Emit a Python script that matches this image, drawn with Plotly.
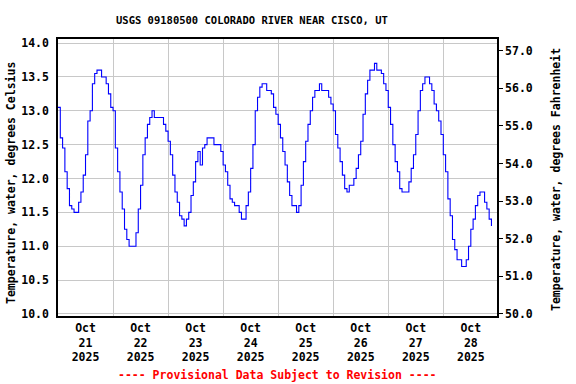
import plotly.graph_objects as go
import pandas as pd

# Hourly water temperature readings (deg C), starting 2025-10-21 00:00
temps_c = [
    13.05, 12.6, 12.45, 12.1, 11.85, 11.6, 11.55, 11.5, 11.5, 11.65,
    11.8, 12.05, 12.35, 12.85, 13.0, 13.4, 13.55, 13.6, 13.6, 13.5,
    13.5, 13.4, 13.25, 13.05, 13.0, 12.45, 12.1, 11.8, 11.55, 11.25,
    11.1, 11.0, 11.0, 11.0, 11.2, 11.55, 11.9, 12.35, 12.6, 12.8,
    12.9, 13.0, 12.9, 12.9, 12.9, 12.9, 12.8, 12.7, 12.55, 12.35,
    12.05, 11.8, 11.65, 11.45, 11.4, 11.3, 11.4, 11.5, 11.75, 11.95,
    12.25, 12.4, 12.2, 12.45, 12.5, 12.6, 12.6, 12.6, 12.5, 12.5,
    12.5, 12.4, 12.2, 12.1, 11.9, 11.7, 11.65, 11.6, 11.6, 11.5,
    11.4, 11.4, 11.6, 11.8, 12.15, 12.5, 13.0, 13.2, 13.35, 13.4,
    13.4, 13.3, 13.3, 13.25, 13.05, 12.95, 12.8, 12.6, 12.4, 12.2,
    11.95, 11.75, 11.6, 11.6, 11.5, 11.6, 11.9, 12.25, 12.55, 12.8,
    13.0, 13.2, 13.3, 13.3, 13.4, 13.3, 13.3, 13.3, 13.2, 13.1,
    13.0, 12.65, 12.45, 12.25, 12.05, 11.85, 11.8, 11.9, 11.9, 12.0,
    12.15, 12.35, 12.55, 12.95, 13.25, 13.45, 13.6, 13.6, 13.7, 13.6,
    13.6, 13.55, 13.4, 13.3, 13.05, 12.8, 12.5, 12.25, 12.1, 11.85,
    11.8, 11.8, 11.8, 11.95, 12.15, 12.35, 12.65, 13.0, 13.3, 13.4,
    13.5, 13.5, 13.4, 13.3, 13.1, 13.0, 12.85, 12.65, 12.35, 12.1,
    11.7, 11.45, 11.1, 10.95, 10.8, 10.8, 10.7, 10.7, 10.8, 11.0,
    11.25, 11.4, 11.6, 11.75, 11.8, 11.8, 11.65, 11.55, 11.4, 11.3,
]
start_time = "2025-10-21 00:00"
times = pd.date_range(start_time, periods=len(temps_c), freq="h")

day_labels = ["Oct<br>21<br>2025", "Oct<br>22<br>2025", "Oct<br>23<br>2025", "Oct<br>24<br>2025",
              "Oct<br>25<br>2025", "Oct<br>26<br>2025", "Oct<br>27<br>2025", "Oct<br>28<br>2025"]
label_times = pd.date_range("2025-10-21 12:00", periods=8, freq="D")
midnights = pd.date_range("2025-10-21 00:00", periods=9, freq="D")

c_ticks = [10.0, 10.5, 11.0, 11.5, 12.0, 12.5, 13.0, 13.5, 14.0]
f_ticks = [50.0, 51.0, 52.0, 53.0, 54.0, 55.0, 56.0, 57.0]
c_range = [9.97, 14.06]
f_range = [c_range[0] * 1.8 + 32, c_range[1] * 1.8 + 32]

FONT = "DejaVu Sans Mono"
PL, PR, PT, PB = 58, 497, 39, 316
PW, PH = PR - PL, PB - PT


def px_x(x):
    return (x - PL) / PW


def px_y(y):
    return (PB - y) / PH


fig = go.Figure()
fig.add_trace(go.Scatter(
    x=times, y=temps_c, mode="lines", line=dict(color="#0000ff", width=1.1, shape="hv"),
    showlegend=False, hoverinfo="skip"))
fig.add_trace(go.Scatter(
    x=times, y=[t * 1.8 + 32 for t in temps_c], mode="lines", yaxis="y2",
    line=dict(width=0), opacity=0, showlegend=False, hoverinfo="skip"))

tick_font = dict(family=FONT, size=11.5, weight="bold", color="black")

fig.update_layout(
    width=576, height=384,
    margin=dict(l=PL, r=576 - PR, t=PT, b=384 - PB, autoexpand=False),
    paper_bgcolor="white", plot_bgcolor="white",
    font=dict(family=FONT, size=11, color="black", weight="bold"),
    xaxis=dict(
        type="date", automargin=False,
        range=[midnights[0], pd.Timestamp("2025-10-28 23:25")],
        tickmode="array", tickvals=label_times, ticktext=day_labels,
        showgrid=False, ticks="", showline=True, linecolor="black", linewidth=1.5,
        mirror=True, zeroline=False, tickfont=tick_font,
        minor=dict(tickvals=midnights, showgrid=True, gridcolor="#c8c8c8", gridwidth=1, ticks=""),
    ),
    yaxis=dict(
        automargin=False,
        range=c_range, tickmode="array", tickvals=c_ticks,
        ticktext=[f"{v:.1f}" for v in c_ticks],
        showgrid=True, gridcolor="#c8c8c8", gridwidth=1, zeroline=False,
        showline=True, linecolor="black", linewidth=1.5, ticks="",
        ticklabelstandoff=5, tickfont=tick_font,
    ),
    yaxis2=dict(
        automargin=False,
        range=f_range, overlaying="y", side="right", tickmode="array", tickvals=f_ticks,
        ticktext=[f"{v:.1f}" for v in f_ticks],
        showgrid=False, zeroline=False, showline=True, linecolor="black", linewidth=1.5,
        ticks="outside", ticklen=4, tickcolor="black", tickwidth=1, tickfont=tick_font,
    ),
    annotations=[
        dict(text="USGS 09180500 COLORADO RIVER NEAR CISCO, UT", xref="paper", yref="paper",
             x=px_x(252), y=px_y(20), xanchor="center", yanchor="middle",
             showarrow=False, font=dict(family=FONT, size=10.5, weight="bold", color="black")),
        dict(text="Temperature, water, degrees Celsius", xref="paper", yref="paper",
             x=px_x(11), y=px_y(183), xanchor="center", yanchor="middle", textangle=-90,
             showarrow=False, font=dict(family=FONT, size=11.5, weight="bold", color="black")),
        dict(text="Temperature, water, degrees Fahrenheit", xref="paper", yref="paper",
             x=px_x(556), y=px_y(180), xanchor="center", yanchor="middle", textangle=-90,
             showarrow=False, font=dict(family=FONT, size=11.5, weight="bold", color="black")),
        dict(text="---- Provisional Data Subject to Revision ----", xref="paper", yref="paper",
             x=px_x(277.5), y=px_y(375), xanchor="center", yanchor="middle",
             showarrow=False, font=dict(family=FONT, size=11.5, weight="bold", color="#ff0000")),
    ],
)

fig.write_html("out.html", config={"displayModeBar": False},
               post_script="document.body.style.margin='0';document.body.style.overflow='hidden';")
